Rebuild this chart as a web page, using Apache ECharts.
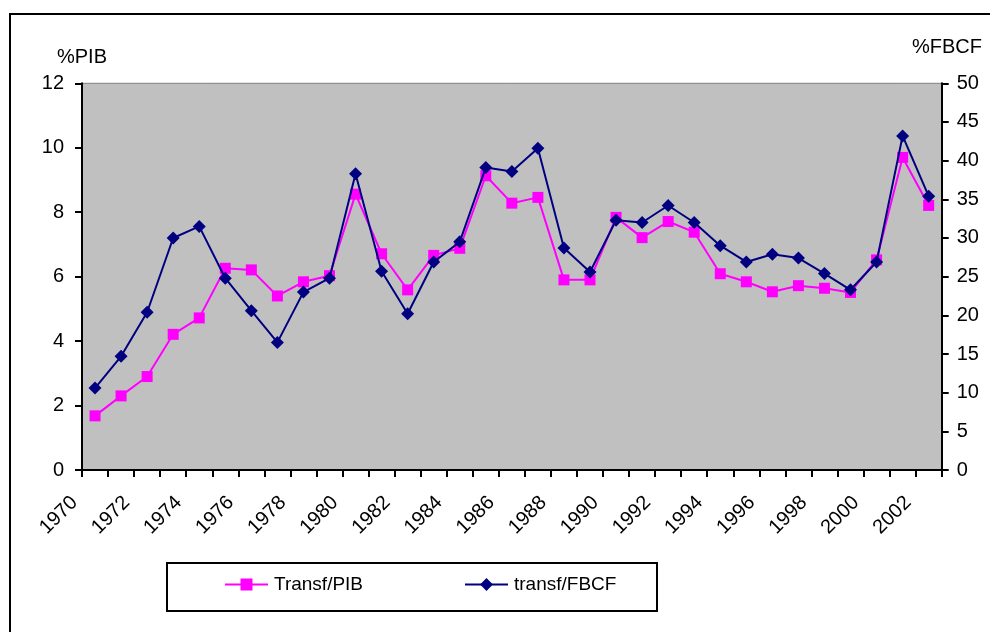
<!DOCTYPE html>
<html>
<head>
<meta charset="utf-8">
<script src="https://cdn.jsdelivr.net/npm/echarts@6/dist/echarts.min.js"></script>
<style>
html,body{margin:0;padding:0;background:#fff;}
#chart{width:990px;height:632px;}
</style>
</head>
<body>
<div id="chart"></div>
<script>
var years = ['1970','1971','1972','1973','1974','1975','1976','1977','1978','1979','1980','1981','1982','1983','1984','1985','1986','1987','1988','1989','1990','1991','1992','1993','1994','1995','1996','1997','1998','1999','2000','2001','2002'];
var transfPIB = [1.68,2.30,2.90,4.21,4.72,6.26,6.21,5.40,5.84,6.03,8.56,6.71,5.59,6.66,6.88,9.13,8.28,8.46,5.90,5.90,7.84,7.21,7.71,7.38,6.09,5.84,5.53,5.72,5.64,5.51,6.52,9.70,8.21];
var transfFBCF = [10.6,14.7,20.4,30.0,31.5,24.8,20.6,16.5,23.0,24.8,38.3,25.7,20.2,26.9,29.5,39.1,38.6,41.6,28.7,25.6,32.3,32.0,34.2,32.0,29.0,26.9,27.9,27.4,25.4,23.3,26.9,43.2,35.4];
var leftTicks = {min:0, max:12, interval:2};
var rightTicks = {min:0, max:50, interval:5};
var seriesNames = ['Transf/PIB','transf/FBCF'];
var axisNames = ['%PIB','%FBCF'];

var FONT = 'Liberation Sans, Arial, sans-serif';
var chart = echarts.init(document.getElementById('chart'), null, {renderer:'canvas'});
var axisLine = {show:true, lineStyle:{color:'#000', width:2}};
var axisTick = {show:true, length:7, lineStyle:{color:'#000', width:2}};
chart.setOption({
  animation:false,
  backgroundColor:'#fff',
  textStyle:{fontFamily:FONT},
  graphic:[
    {type:'rect', shape:{x:10, y:14, width:1000, height:700}, style:{fill:'none', stroke:'#000', lineWidth:2}, silent:true},
    {type:'rect', shape:{x:167, y:563, width:490, height:48}, style:{fill:'#fff', stroke:'#000', lineWidth:2}, silent:true, z:-1},
    {type:'text', left:57, top:47, style:{text:axisNames[0], fontSize:20, fontFamily:FONT, fill:'#000'}},
    {type:'text', left:912, top:37, style:{text:axisNames[1], fontSize:20, fontFamily:FONT, fill:'#000'}}
  ],
  grid:{left:82, top:83.3, right:48.3, bottom:162, show:true, backgroundColor:'#c0c0c0', borderColor:'#808080', borderWidth:1, containLabel:false},
  legend:[
    {data:[seriesNames[0]], left:224, top:575, itemWidth:43, itemHeight:15, itemGap:0, padding:0,
     textStyle:{fontSize:19, fontFamily:FONT, color:'#000', padding:[0,0,0,1]}},
    {data:[seriesNames[1]], left:464, top:575, itemWidth:43, itemHeight:16, itemGap:0, padding:0,
     textStyle:{fontSize:19, fontFamily:FONT, color:'#000', padding:[0,0,0,1]}}
  ],
  xAxis:{
    type:'category', data:years, boundaryGap:true,
    axisLine:axisLine,
    axisTick:{show:true, length:7, interval:0, lineStyle:{color:'#000', width:2}},
    axisLabel:{interval:1, rotate:45, fontSize:20, fontFamily:FONT, color:'#000', margin:9, padding:[0,29,0,0]},
    splitLine:{show:false}
  },
  yAxis:[
    {type:'value', min:leftTicks.min, max:leftTicks.max, interval:leftTicks.interval, position:'left',
     axisLine:axisLine, axisTick:axisTick, splitLine:{show:false},
     axisLabel:{fontSize:20, fontFamily:FONT, color:'#000', margin:18}},
    {type:'value', min:rightTicks.min, max:rightTicks.max, interval:rightTicks.interval, position:'right',
     axisLine:axisLine, axisTick:axisTick, splitLine:{show:false},
     axisLabel:{fontSize:20, fontFamily:FONT, color:'#000', margin:15}}
  ],
  series:[
    {name:seriesNames[0], type:'line', yAxisIndex:0, data:transfPIB, symbol:'rect', symbolSize:11,
     lineStyle:{color:'#ff00ff', width:2}, itemStyle:{color:'#ff00ff'}, z:2},
    {name:seriesNames[1], type:'line', yAxisIndex:1, data:transfFBCF, symbol:'diamond', symbolSize:13,
     lineStyle:{color:'#000080', width:2}, itemStyle:{color:'#000080'}, z:3}
  ]
});
</script>
</body>
</html>
